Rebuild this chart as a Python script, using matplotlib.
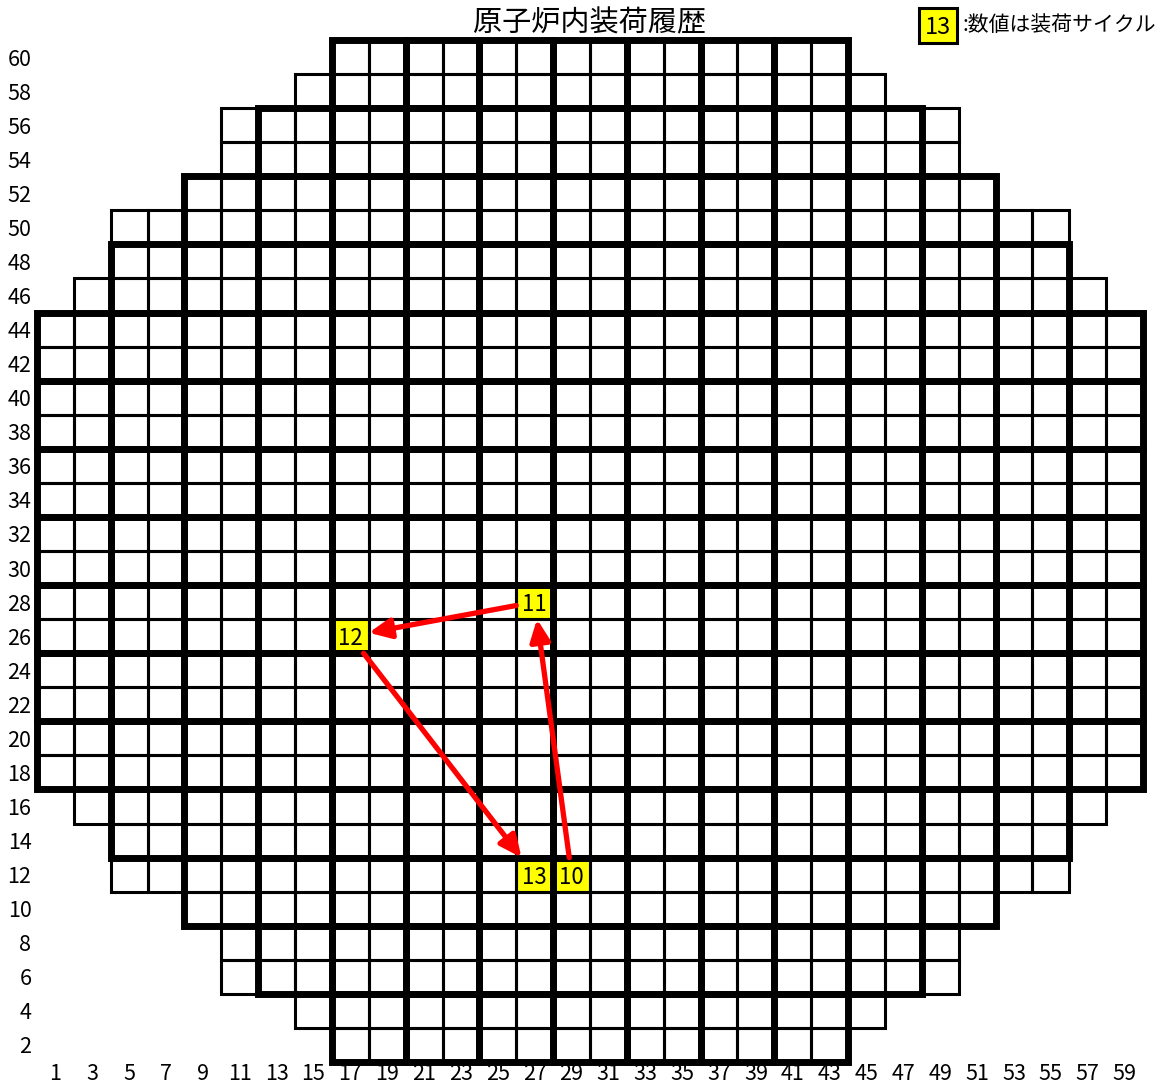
import matplotlib
matplotlib.use("Agg")
import matplotlib.pyplot as plt
from matplotlib.patches import Rectangle

plt.rcParams['font.family'] = ['Noto Sans CJK JP', 'DejaVu Sans']

# core map axes labels
col_labels = list(range(1, 60, 2))
row_labels = list(range(2, 61, 2))

# first / last loaded column for each row, row 2 -> row 60
row_first = [17, 15, 11, 11, 9, 5, 5, 3] + [1] * 14 + [3, 5, 5, 9, 11, 11, 15, 17]
row_last = [43, 45, 49, 49, 51, 55, 55, 57] + [59] * 14 + [57, 55, 55, 51, 49, 49, 45, 43]

# loading history of the bundle (cycle, column, row)
cycles = [10, 11, 12, 13]
hist_col = [29, 27, 17, 27]
hist_row = [12, 28, 26, 12]

title = "原子炉内装荷履歴"
legend_txt = ":数値は装荷サイクル"


def ix(c):
    return col_labels.index(c)


def iy(r):
    return row_labels.index(r)


W, H = 1165, 1086
fig = plt.figure(figsize=(W / 100, H / 100), dpi=100)
ax = fig.add_axes([37 / W, 24 / H, 1106 / W, 1022 / H])
ax.set_xlim(0, len(col_labels))
ax.set_ylim(0, len(row_labels))
for s in ax.spines.values():
    s.set_visible(False)

# thin cells
loaded = set()
for r, c0, c1 in zip(row_labels, row_first, row_last):
    for c in range(c0, c1 + 1, 2):
        loaded.add((c, r))
        ax.add_patch(Rectangle((ix(c), iy(r)), 1, 1, fill=False, ec='black',
                               lw=2.2, clip_on=False, zorder=2))

# thick 2x2 blocks where all four cells are loaded
for i in range(0, len(col_labels), 2):
    for j in range(0, len(row_labels), 2):
        block = [(col_labels[i + a], row_labels[j + b]) for a in (0, 1) for b in (0, 1)]
        if all(cell in loaded for cell in block):
            ax.add_patch(Rectangle((i, j), 2, 2, fill=False, ec='black', lw=5,
                                   joinstyle='miter', clip_on=False, zorder=3))

# highlighted cells
for cyc, c, r in zip(cycles, hist_col, hist_row):
    ax.add_patch(Rectangle((ix(c), iy(r)), 1, 1, fc='yellow', ec='none', zorder=1))
    ax.text(ix(c) + 0.5, iy(r) + 0.5, str(cyc), ha='center', va='center_baseline',
            fontsize=16, zorder=4)


def edge(x0, y0, dx, dy):
    t = min(0.5 / abs(dx) if dx else 1e9, 0.5 / abs(dy) if dy else 1e9)
    return x0 + dx * t, y0 + dy * t


# arrows between consecutive positions
for k in range(len(cycles) - 1):
    xa, ya = ix(hist_col[k]) + 0.5, iy(hist_row[k]) + 0.5
    xb, yb = ix(hist_col[k + 1]) + 0.5, iy(hist_row[k + 1]) + 0.5
    dx, dy = xb - xa, yb - ya
    p0 = edge(xa, ya, dx, dy)
    p1 = edge(xb, yb, -dx, -dy)
    ax.annotate('', xy=p1, xytext=p0,
                arrowprops=dict(arrowstyle='-|>,head_length=0.65,head_width=0.3',
                                color='red', lw=3.8, mutation_scale=20,
                                shrinkA=0, shrinkB=0),
                zorder=5)

ax.set_xticks([i + 0.5 for i in range(len(col_labels))], [str(c) for c in col_labels])
ax.set_yticks([i + 0.5 for i in range(len(row_labels))], [str(r) for r in row_labels])
ax.tick_params(length=0, labelsize=15.5)
ax.tick_params(axis='x', pad=1)
ax.tick_params(axis='y', pad=4)

fig.text(590 / W, 1 - 23 / H, title, ha='center', va='center', fontsize=21)

# legend box
fig.add_artist(Rectangle((919 / W, 1 - 43 / H), 38 / W, 35 / H, transform=fig.transFigure,
                         fc='yellow', ec='black', lw=2.2))
fig.text(938 / W, 1 - 25 / H, str(cycles[-1]), ha='center', va='center_baseline', fontsize=17)
fig.text(963 / W, 1 - 25 / H, legend_txt, ha='left', va='center', fontsize=15)

fig.savefig('out.png', dpi=100)
